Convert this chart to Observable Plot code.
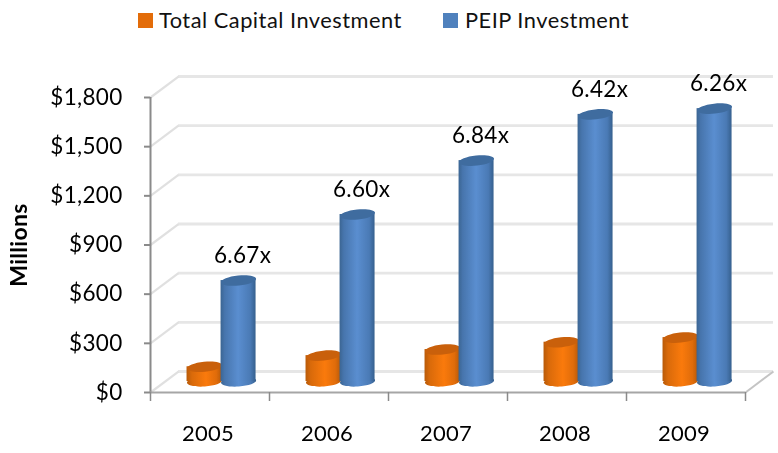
<!DOCTYPE html>
<html>
<head>
<meta charset="utf-8">
<script src="https://cdn.jsdelivr.net/npm/d3@7"></script>
<script src="https://cdn.jsdelivr.net/npm/@observablehq/plot@0.6"></script>
<style>
  html, body { margin: 0; padding: 0; background: #fff; }
  #legend { position: relative; height: 40px; font: 21.8px Lato, sans-serif; color: #111; letter-spacing: .5px; }
  #legend span { position: absolute; white-space: nowrap; }
  #legend .k { width: 15px; height: 15px; top: 13px; }
  #legend .t { top: 6px; }
  svg { display: block; filter: blur(0.45px); }
  svg text { letter-spacing: .3px; }
</style>
</head>
<body>
<div id="legend">
  <span class="k" style="left:138px;background:#e36c09"></span><span class="t" style="left:159px">Total Capital Investment</span>
  <span class="k" style="left:443px;background:#4f81bd"></span><span class="t" style="left:465px">PEIP Investment</span>
</div>
<div id="chart"></div>
<script>
const years = [2005, 2006, 2007, 2008, 2009];
const totalCapital = [90, 158, 195, 240, 268];
const peip = [616, 1019, 1348, 1630, 1665];
const multiples = ["6.67x", "6.60x", "6.84x", "6.42x", "6.26x"];
const yTicks = [0, 300, 600, 900, 1200, 1500, 1800];
const xEdges = [2004.5, 2005.5, 2006.5, 2007.5, 2008.5, 2009.5];

// the pseudo-3D box, expressed in data units
const depthX = 0.235, depthY = 128;
const floorLift = 67;          // bars stand in the middle of the floor
const barWidth = 0.294;
const orangeShift = -0.046, blueShift = 0.24;

const ellipse = (a, b) => ({
  draw(c) {
    const k = 0.5523;
    c.moveTo(-a, 0);
    c.bezierCurveTo(-a, -k * b, -k * a, -b, 0, -b);
    c.bezierCurveTo(k * a, -b, a, -k * b, a, 0);
    c.bezierCurveTo(a, k * b, k * a, b, 0, b);
    c.bezierCurveTo(-k * a, b, -a, k * b, -a, 0);
    c.closePath();
  }
});

const rows = shift => (values) => years.map((year, i) => ({x: year + shift, v: values[i] + floorLift}));
const orange = rows(orangeShift)(totalCapital);
const blue = rows(blueShift)(peip);

const cylinder = (data, body, top) => [
  Plot.dot(data, {x: "x", y: floorLift, r: 1, symbol: ellipse(17.6, 5), fill: body, stroke: "none", rotate: -4}),
  Plot.rect(data, {x1: d => d.x - barWidth / 2, x2: d => d.x + barWidth / 2, y1: floorLift, y2: "v", fill: body, inset: 0}),
  Plot.dot(data, {x: "x", y: "v", r: 1, symbol: ellipse(17.6, 5), fill: top, stroke: "none", rotate: -6})
];

const gradient = (id, stops) => {
  const ns = "http://www.w3.org/2000/svg";
  const g = document.createElementNS(ns, "linearGradient");
  g.setAttribute("id", id);
  stops.forEach(([o, c]) => {
    const s = document.createElementNS(ns, "stop");
    s.setAttribute("offset", o);
    s.setAttribute("stop-color", c);
    g.appendChild(s);
  });
  return g;
};

const defs = () => {
  const d = document.createElementNS("http://www.w3.org/2000/svg", "defs");
  d.appendChild(gradient("bodyBlue", [[0, "#3b6592"], [0.12, "#4775ad"], [0.5, "#5a8ed0"], [0.85, "#4a7ab5"], [1, "#36608e"]]));
  d.appendChild(gradient("bodyOrange", [[0, "#b85a08"], [0.15, "#d96a0a"], [0.55, "#fa7a0c"], [0.85, "#e06c0a"], [1, "#b95a08"]]));
  return d;
};

const chart = Plot.plot({
  width: 778,
  height: 413,
  marginLeft: 150,
  marginRight: 33,
  marginTop: 57,
  marginBottom: 61,
  style: {fontFamily: "Lato, sans-serif", background: "#fff", color: "#000", overflow: "visible"},
  x: {domain: [2004.5, 2009.5]},
  y: {domain: [0, 1800]},
  marks: [
    defs,
    // back wall grid
    Plot.ruleY(yTicks, {x1: 2004.5 + depthX, x2: 2009.5 + depthX, y: d => d + depthY, stroke: "#e6e6e6", strokeWidth: 2.8}),
    // side wall grid
    Plot.link(yTicks, {x1: 2004.5, y1: d => d, x2: 2004.5 + depthX, y2: d => d + depthY, stroke: "#e0e0e0", strokeWidth: 2.2}),
    // floor, right edge
    Plot.link([0], {x1: 2009.5, y1: 0, x2: 2009.5 + depthX, y2: depthY, stroke: "#c4c4c4", strokeWidth: 2}),
    ...cylinder(orange, "url(#bodyOrange)", "#c9600b"),
    ...cylinder(blue, "url(#bodyBlue)", "#3f6c9f"),
    // front axes
    Plot.ruleX([2004.5], {y1: 0, y2: 1800, stroke: "#8a8a8a", strokeWidth: 2}),
    Plot.ruleY([0], {stroke: "#a6a6a6", strokeWidth: 2}),
    Plot.axisY({
      ticks: yTicks,
      tickFormat: d => "$" + d3.format(",")(d),
      tickSize: 6,
      tickPadding: 22,
      stroke: "#8a8a8a",
      strokeWidth: 2,
      fontSize: 22.5,
      label: "Millions",
      labelAnchor: "center",
      labelArrow: "none",
      labelOffset: 140
    }),
    Plot.axisX({ticks: xEdges, tickFormat: () => "", tickSize: 9, stroke: "#8a8a8a", strokeWidth: 1.5, label: null}),
    Plot.axisX({ticks: years, tickFormat: d => String(d), tickSize: 0, tickPadding: 33, fontSize: 22, label: null, dx: -2}),
    // multiples above the PEIP cylinders
    Plot.text(blue, {x: "x", y: "v", text: (d, i) => multiples[i], dx: 4, dy: -25, fontSize: 22.5, fill: "#000"})
  ]
});
document.getElementById("chart").appendChild(chart);
// axis title is bold
chart.querySelectorAll("text").forEach(t => { if (t.textContent === "Millions") { t.setAttribute("font-weight", "bold"); t.setAttribute("font-size", "23"); } });
</script>
</body>
</html>
